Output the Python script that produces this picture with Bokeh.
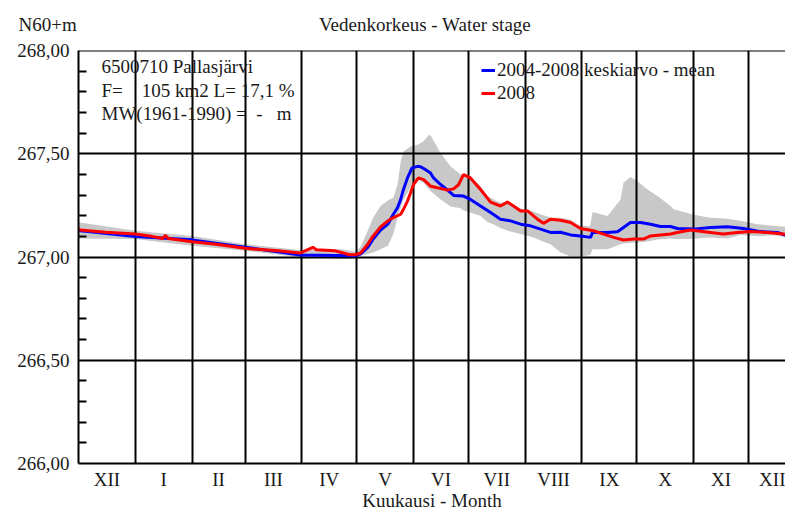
from bokeh.plotting import figure
from bokeh.models import (FixedTicker, Span, Label, Legend, LegendItem,
                          CustomJSTickFormatter, LinearAxis)
from bokeh.embed import file_html
from bokeh.resources import INLINE

# ---- data (x = days since 1 Dec 2007) ----
month_bounds = [0, 31, 62, 91, 122, 152, 183, 213, 244, 275, 305, 336, 366, 397]
month_names = ["XII", "I", "II", "III", "IV", "V", "VI", "VII", "VIII", "IX", "X", "XI", "XII"]

y_ticks = [266.0, 266.5, 267.0, 267.5, 268.0]
y_minor = [266.1, 266.2, 266.3, 266.4, 266.6, 266.7, 266.8, 266.9,
           267.1, 267.2, 267.3, 267.4, 267.6, 267.7, 267.8, 267.9]

red_days = [0, 1, 15, 31, 40, 46, 47.5, 49, 62, 75, 91, 109, 121, 128, 130, 140, 148, 151,
            154, 158, 161, 165, 169, 172, 176, 177.5, 179.7, 181.4, 183, 185.7, 188.5,
            192.3, 196.1, 201.6, 204.9, 207.6, 210.3, 214.1, 219.6, 225.1, 230.5, 234.3,
            237.6, 241.5, 245.3, 250.7, 254, 257.8, 263.3, 268.8, 274.2, 281.3, 286.8,
            292.3, 297.7, 303.2, 308.6, 312.5, 317.9, 323.4, 327, 334.3, 345.2, 352.3,
            360, 367.1, 376.4, 385.1, 390.6]
red_vals = [267.135, 267.131, 267.12, 267.111, 267.10, 267.09, 267.105, 267.09, 267.074,
            267.062, 267.042, 267.030, 267.019, 267.047, 267.035, 267.03, 267.011, 267.011,
            267.018, 267.062, 267.102, 267.146, 267.175, 267.191, 267.207, 267.231, 267.271,
            267.311, 267.351, 267.383, 267.375, 267.343, 267.335, 267.324, 267.33, 267.35,
            267.399, 267.383, 267.327, 267.266, 267.247, 267.266, 267.247, 267.223, 267.223,
            267.183, 267.163, 267.183, 267.178, 267.167, 267.138, 267.127, 267.111, 267.095,
            267.082, 267.087, 267.087, 267.102, 267.107, 267.111, 267.119, 267.131, 267.119,
            267.111, 267.119, 267.123, 267.119, 267.111, 267.102]

mean_days = [0, 1, 31, 62, 91, 121, 151, 154, 158, 161, 165, 169, 172, 174.3, 176, 177.5,
             179.7, 182.2, 185.2, 186.8, 189.6, 192.3, 193.9, 197.8, 201.6, 204.9, 210.3,
             214.1, 219.6, 225.1, 230.5, 236, 241.5, 246.9, 252.4, 257.8, 263.3, 268.8,
             274.2, 279.7, 280.8, 289, 294.4, 297.7, 301.5, 307, 312.5, 317.9, 323.4, 327.2,
             335.9, 345.2, 354.5, 363.3, 372.5, 381.8, 387.3, 390.6]
mean_vals = [267.13, 267.127, 267.099, 267.083, 267.047, 267.01, 267.006, 267.014, 267.047,
             267.087, 267.13, 267.159, 267.207, 267.239, 267.279, 267.327, 267.383, 267.431,
             267.439, 267.437, 267.423, 267.407, 267.383, 267.351, 267.324, 267.298, 267.295,
             267.279, 267.247, 267.215, 267.183, 267.175, 267.159, 267.151, 267.135, 267.119,
             267.12, 267.107, 267.102, 267.095, 267.119, 267.119, 267.122, 267.143, 267.167,
             267.167, 267.159, 267.148, 267.148, 267.138, 267.135, 267.143, 267.146, 267.138,
             267.123, 267.119, 267.102, 267.105]

band_days = [0, 1, 31, 62, 91, 121, 144, 151, 154, 158, 161, 165, 169, 172, 174.3, 176,
             177.5, 181.4, 185.2, 188.5, 191.2, 192.3, 197.8, 203.2, 208.7, 210.3, 214.1,
             219.6, 223.4, 226.7, 230.5, 234.3, 237.6, 241.5, 248.6, 252.4, 257.8, 263.3,
             268.8, 274.2, 279.5, 280.8, 289, 296.1, 297.7, 301.5, 305.4, 310.8, 316.3, 323.4,
             325, 335, 344, 354.5, 361.6, 370.9, 379.7, 390.6]
band_hi = [267.17, 267.167, 267.127, 267.102, 267.062, 267.034, 267.038, 267.026, 267.047,
           267.127, 267.191, 267.247, 267.274, 267.287, 267.351, 267.463, 267.511, 267.535,
           267.543, 267.56, 267.59, 267.59, 267.503, 267.439, 267.40, 267.40, 267.385,
           267.345, 267.295, 267.28, 267.263, 267.27, 267.255, 267.235, 267.22, 267.207,
           267.191, 267.19, 267.18, 267.15, 267.15, 267.218, 267.199, 267.279, 267.359,
           267.388, 267.367, 267.327, 267.295, 267.247, 267.231, 267.207, 267.191, 267.185,
           267.175, 267.159, 267.151, 267.143]
band_lo = [267.09, 267.09, 267.087, 267.054, 267.03, 266.999, 266.99, 266.99, 267.006,
           267.014, 267.022, 267.038, 267.054, 267.111, 267.191, 267.239, 267.279, 267.335,
           267.375, 267.36, 267.33, 267.32, 267.279, 267.244, 267.236, 267.225, 267.215,
           267.199, 267.17, 267.159, 267.14, 267.127, 267.12, 267.111, 267.095, 267.08,
           267.062, 267.022, 267.003, 267.003, 267.01, 267.038, 267.038, 267.062, 267.065,
           267.068, 267.07, 267.075, 267.085, 267.09, 267.087, 267.087, 267.095, 267.09,
           267.106, 267.10, 267.105, 267.09]

title_text = "Vedenkorkeus - Water stage"
y_unit = "N60+m"
x_title = "Kuukausi - Month"
NB = "\u00a0"
info_lines = ["6500710 Pallasjärvi",
              "F=" + NB * 4 + "105 km2 L= 17,1 %",
              "MW(1961-1990) =" + NB * 2 + "-" + NB * 3 + "m"]
legend_names = ["2004-2008 keskiarvo - mean", "2008"]

FONT = "Liberation Serif"
FS = "19px"
INK = "#1a1a1a"

month_centers = [(a + b) / 2 for a, b in zip(month_bounds[:-1], month_bounds[1:])]

p = figure(width=785, height=513, x_range=(0, 386.2), y_range=(266, 268),
           output_backend="svg", toolbar_location=None,
           min_border_left=78, min_border_right=0, min_border_top=50, min_border_bottom=50)
p.outline_line_color = None
p.background_fill_color = "white"
p.border_fill_color = "white"

# band
p.varea(x=band_days, y1=band_lo, y2=band_hi, fill_color="#c8c8c8", level="image")

# grid
p.xgrid.ticker = FixedTicker(ticks=month_bounds[1:-1])
p.ygrid.ticker = FixedTicker(ticks=[266.5, 267.0, 267.5])
for g in (p.xgrid, p.ygrid):
    g.grid_line_color = "black"
    g.grid_line_width = 2
    g.grid_line_alpha = 1

p.add_layout(Span(location=268, dimension="width", line_color="black", line_width=2))

# lines
r_mean = p.line(mean_days, mean_vals, line_color="#0000ff", line_width=3)
r_2008 = p.line(red_days, red_vals, line_color="#ff0000", line_width=3)

# y axis
p.yaxis.ticker = FixedTicker(ticks=y_ticks, minor_ticks=y_minor)
p.yaxis.formatter = CustomJSTickFormatter(code="return tick.toFixed(2).replace('.', ',');")
p.yaxis.axis_line_width = 2
p.yaxis.axis_line_color = "black"
p.yaxis.major_tick_in = 0
p.yaxis.major_tick_out = 0
p.yaxis.minor_tick_in = 8
p.yaxis.minor_tick_out = 0
p.yaxis.minor_tick_line_width = 2
p.yaxis.minor_tick_line_color = "black"
p.yaxis.major_label_text_font = FONT
p.yaxis.major_label_text_font_size = FS
p.yaxis.major_label_text_color = INK
p.yaxis.major_label_standoff = 9

# x axis
p.xaxis.ticker = FixedTicker(ticks=month_centers)
p.xaxis.formatter = CustomJSTickFormatter(
    args=dict(centers=month_centers, names=month_names),
    code="const i = centers.indexOf(tick); return i >= 0 ? names[i] : '';")
p.xaxis.axis_line_width = 2
p.xaxis.axis_line_color = "black"
p.xaxis.major_tick_line_color = None
p.xaxis.minor_tick_line_color = None
p.xaxis.major_tick_in = 0
p.xaxis.major_tick_out = 0
p.xaxis.minor_tick_in = 0
p.xaxis.minor_tick_out = 0
p.xaxis.major_label_text_font = FONT
p.xaxis.major_label_text_font_size = FS
p.xaxis.major_label_text_color = INK
p.xaxis.major_label_standoff = 5
p.xaxis.axis_label = x_title
p.xaxis.axis_label_text_font = FONT
p.xaxis.axis_label_text_font_size = FS
p.xaxis.axis_label_text_font_style = "normal"
p.xaxis.axis_label_text_color = INK
p.xaxis.axis_label_standoff = -3

# header texts on a bare top axis: unit label left of the frame, title over the plot
head_pos = [0, 189.3]
head_txt = [y_unit + NB * 13, title_text]
top_axis = LinearAxis(ticker=FixedTicker(ticks=head_pos),
                      formatter=CustomJSTickFormatter(
                          args=dict(pos=head_pos, txt=head_txt),
                          code="const i = pos.indexOf(tick); return i >= 0 ? txt[i] : '';"),
                      axis_line_color=None, major_tick_line_color=None,
                      minor_tick_line_color=None,
                      major_tick_in=0, major_tick_out=0, minor_tick_in=0, minor_tick_out=0,
                      major_label_text_font=FONT, major_label_text_font_size=FS,
                      major_label_text_color=INK, major_label_standoff=16)
p.add_layout(top_axis, "above")

for i, t in enumerate(info_lines):
    p.add_layout(Label(x=0, y=268, x_offset=23, y_offset=-16 - 23.5 * i, text=t,
                       text_font=FONT, text_font_size=FS, text_color=INK,
                       text_align="left", text_baseline="middle"))

legend = Legend(items=[LegendItem(label=legend_names[0], renderers=[r_mean]),
                       LegendItem(label=legend_names[1], renderers=[r_2008])],
                location=(403, 359), orientation="vertical",
                glyph_width=14, glyph_height=20, label_height=20, label_standoff=2,
                padding=0, margin=0, spacing=1,
                label_text_font=FONT, label_text_font_size=FS, label_text_color=INK,
                border_line_color=None, background_fill_alpha=0)
p.add_layout(legend, "center")

open("out.html", "w").write(file_html(p, INLINE))
